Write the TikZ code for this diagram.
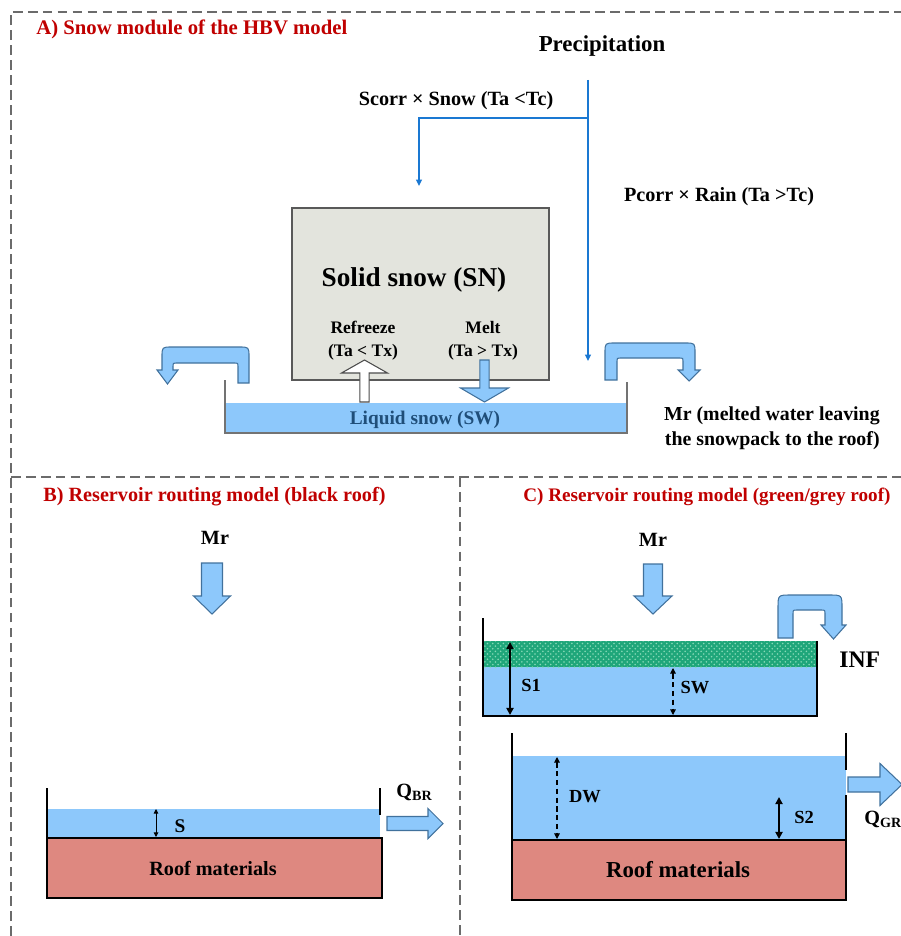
\documentclass[tikz,border=0pt]{standalone}
\usepackage{fontspec}
\setmainfont{Liberation Serif}
\usetikzlibrary{arrows.meta,patterns}

\definecolor{water}{HTML}{8DC8FB}
\definecolor{waterline}{HTML}{41719C}
\definecolor{precipblue}{HTML}{1A78D2}
\definecolor{snowgrey}{HTML}{E3E4DD}
\definecolor{roofred}{HTML}{DE8880}
\definecolor{titlered}{HTML}{C00000}
\definecolor{sgreen}{HTML}{1FA67A}
\definecolor{sgreenlight}{HTML}{86D9B6}
\definecolor{darkblue}{HTML}{1F4E79}
\definecolor{framegrey}{HTML}{6B6B6B}

% block arrows: style, centre, start, head base, tip, shaft half width, head half width
\newcommand{\vblock}[7]{\draw[#1] (#2-#6,#3) -- (#2+#6,#3) -- (#2+#6,#4) -- (#2+#7,#4) -- (#2,#5) -- (#2-#7,#4) -- (#2-#6,#4) -- cycle;}
\newcommand{\hblock}[7]{\draw[#1] (#3,#2-#6) -- (#4,#2-#6) -- (#4,#2-#7) -- (#5,#2) -- (#4,#2+#7) -- (#4,#2+#6) -- (#3,#2+#6) -- cycle;}

\begin{document}
\begin{tikzpicture}[x=0.02cm,y=-0.02cm,font=\bfseries]
  % Styles
  \tikzstyle{frame}=[framegrey,line width=0.6pt,dash pattern=on 5.5pt off 3pt]
  \tikzstyle{title}=[titlered,anchor=west,inner sep=0pt,font=\fontsize{11.5}{14}\selectfont\bfseries]
  \tikzstyle{lbl}=[inner sep=0pt,font=\fontsize{11.5}{14}\selectfont\bfseries]
  \tikzstyle{small}=[inner sep=0pt,align=center,font=\fontsize{10}{13}\selectfont\bfseries]
  \tikzstyle{precip}=[precipblue,line width=0.9pt,-{Triangle[length=3.6pt,width=3.2pt]}]
  \tikzstyle{flow}=[fill=water,draw=waterline,line width=0.6pt]
  \tikzstyle{wall}=[line width=1.2pt]
  \tikzstyle{thinwall}=[black!55,line width=0.6pt]
  \tikzstyle{roof}=[fill=roofred,draw=black,line width=1.3pt]
  \tikzstyle{level}=[line width=1.2pt,{Triangle[length=4pt,width=4pt]}-{Triangle[length=4pt,width=4pt]}]
  \tikzstyle{dlevel}=[line width=0.6pt,densely dashed,{Triangle[length=3.2pt,width=3.2pt]}-{Triangle[length=3.2pt,width=3.2pt]}]

  \useasboundingbox (0,0) rectangle (901,936);

  % Panel frames
  \draw[frame] (11,936) -- (11,12) -- (901,12);
  \draw[frame] (11,477) -- (901,477);
  \draw[frame] (460,477) -- (460,936);

  %%% A) Snow module
  \node[title,font=\fontsize{11.8}{14}\selectfont\bfseries] (titleA) at (36,29) {A) Snow module of the HBV model};
  \node[lbl,font=\fontsize{13}{15}\selectfont\bfseries] (precip) at (602,46) {Precipitation};
  \node[lbl] (scorr) at (456,101) {Scorr × Snow (Ta <Tc)};
  \node[lbl] (pcorr) at (719,197) {Pcorr × Rain (Ta >Tc)};

  \coordinate (pstart) at (588,80);
  \coordinate (psplit) at (588,118);
  \coordinate (rainend) at (588,361);
  \coordinate (snowend) at (419,186);
  \draw[precip] (pstart) -- (rainend);
  \draw[precip] (psplit) -| (snowend);

  % solid snow store
  \draw[fill=snowgrey,draw=black!65,line width=0.7pt] (292,208) rectangle (549,380);
  \node[lbl,font=\fontsize{15.5}{18}\selectfont\bfseries] (sn) at (414,280) {Solid snow (SN)};
  \node[small] (refreeze) at (363,341) {Refreeze\\(Ta < Tx)};
  \node[small] (melt) at (483,341) {Melt\\(Ta > Tx)};

  % liquid snow store
  \fill[water] (225,403) rectangle (627,433);
  \draw[thinwall] (225,380) -- (225,433) -- (627,433) -- (627,382);
  \node[lbl,darkblue,font=\fontsize{11}{13}\selectfont\bfseries] (sw) at (425,420) {Liquid snow (SW)};

  \vblock{fill=white,draw=black!70,line width=0.6pt}{364.5}{402}{373}{360}{4.7}{23}
  \vblock{flow}{484.5}{360}{388}{402}{4.7}{24}

  % overflow arrows
  \draw[flow] (249,383) -- (249,357) .. controls (249,347) .. (239,347) -- (172,347)
    .. controls (162,347) .. (162,357) -- (162,370) -- (157,370) -- (167.5,384) -- (178,370)
    -- (173,370) -- (173,366) .. controls (173,363) .. (176,363) -- (235,363)
    .. controls (238,363) .. (238,366) -- (238,383) -- cycle;
  \draw[flow] (605,380) -- (605,353) .. controls (605,343) .. (615,343) -- (685,343)
    .. controls (695,343) .. (695,353) -- (695,370) -- (700,370) -- (689,381) -- (678,370)
    -- (683,370) -- (683,361) .. controls (683,358) .. (680,358) -- (620,358)
    .. controls (617,358) .. (617,361) -- (617,380) -- cycle;
  \node[lbl,align=right,anchor=east,font=\fontsize{11.3}{14}\selectfont\bfseries] (mrtext) at (880,428)
    {Mr (melted water leaving\\the snowpack to the roof)};

  %%% B) black roof
  \node[title] (titleB) at (43,497) {B) Reservoir routing model (black roof)};
  \node[lbl] (mrB) at (215,538) {Mr};
  \vblock{flow}{212}{563}{596}{614}{10.5}{18.5}

  \fill[water] (47,809) rectangle (380,838);
  \draw[wall] (47,788) -- (47,838);
  \draw[wall] (380,788) -- (380,815);
  \draw[roof] (47,838) rectangle (382,898);
  \node[lbl] (roofB) at (213,868) {Roof materials};
  \draw[line width=0.5pt,{Triangle[length=2.6pt,width=2.6pt]}-{Triangle[length=2.6pt,width=2.6pt]}] (156,809) -- (156,837);
  \node[lbl,font=\fontsize{11}{13}\selectfont\bfseries] (sB) at (180,826) {S};
  \hblock{flow}{823.5}{387}{428}{443}{7}{15}
  \node[lbl,anchor=west] (qbr) at (396,792) {Q\textsubscript{BR}};

  %%% C) green/grey roof
  \node[title,font=\fontsize{10.9}{14}\selectfont\bfseries] (titleC) at (523,497) {C) Reservoir routing model (green/grey roof)};
  \node[lbl] (mrC) at (653,540) {Mr};
  \vblock{flow}{653}{564}{596}{614}{9.5}{19}

  % upper store: substrate layer
  \fill[water] (483,667) rectangle (817,716);
  \fill[sgreen] (483,641) rectangle (817,667);
  \fill[pattern=crosshatch dots,pattern color=sgreenlight] (483,641) rectangle (817,667);
  \draw[wall] (483,618) -- (483,716) -- (817,716) -- (817,641);
  \draw[level] (510,642) -- (510,715);
  \node[lbl,font=\fontsize{10.5}{13}\selectfont\bfseries] (s1) at (531,685) {S1};
  \draw[dlevel] (673,668) -- (673,715);
  \node[lbl,font=\fontsize{10.5}{13}\selectfont\bfseries] (swC) at (695,688) {SW};

  \draw[flow] (778,638) -- (778,608) .. controls (778,595) .. (791,595) -- (829,595)
    .. controls (842,595) .. (842,608) -- (842,625) -- (846,625) -- (833.5,639) -- (821,625)
    -- (825,625) -- (825,614) .. controls (825,610) .. (821,610) -- (797,610)
    .. controls (793,610) .. (793,614) -- (793,638) -- cycle;
  \node[lbl,anchor=west,font=\fontsize{13.5}{16}\selectfont\bfseries] (inf) at (839,660) {INF};

  % lower store
  \fill[water] (512,756) rectangle (846,840);
  \draw[wall] (512,733) -- (512,840);
  \draw[wall] (846,733) -- (846,770);
  \draw[wall] (846,795) -- (846,840);
  \draw[roof] (512,840) rectangle (846,900);
  \node[lbl,font=\fontsize{13}{15}\selectfont\bfseries] (roofC) at (678,870) {Roof materials};
  \draw[dlevel] (557,757) -- (557,839);
  \node[lbl,font=\fontsize{10.5}{13}\selectfont\bfseries] (dw) at (585,797) {DW};
  \draw[level] (779,797) -- (779,839);
  \node[lbl,font=\fontsize{10.5}{13}\selectfont\bfseries] (s2) at (804,817) {S2};
  \hblock{flow}{784.5}{848}{880}{902}{7.5}{21}
  \node[lbl,anchor=west] (qgr) at (864,819) {Q\textsubscript{GR}};
\end{tikzpicture}
\end{document}
